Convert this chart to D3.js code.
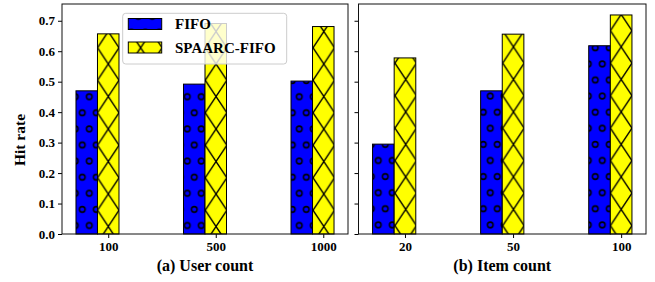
<!DOCTYPE html>
<html>
<head>
<meta charset="utf-8">
<script src="https://d3js.org/d3.v7.min.js"></script>
<style>
  body { margin: 0; background: #fff; }
  text { font-family: "Liberation Serif", "DejaVu Serif", serif; font-weight: bold; fill: #000; }
</style>
</head>
<body>
<div id="chart"></div>
<script>

// data
var seriesNames = ["FIFO", "SPAARC-FIFO"];
var userCounts = ["100", "500", "1000"];
var userFifo = [0.470, 0.492, 0.502];
var userSpaarc = [0.657, 0.691, 0.681];
var itemCounts = ["20", "50", "100"];
var itemFifo = [0.295, 0.470, 0.618];
var itemSpaarc = [0.578, 0.656, 0.719];
var yTicks = [0, 0.1, 0.2, 0.3, 0.4, 0.5, 0.6, 0.7];

var W = 655, H = 282;
var barW = 0.2;

var svg = d3.select("#chart").append("svg")
    .attr("width", W)
    .attr("height", H);

var defs = svg.append("defs");

// shared y scale
var y = d3.scaleLinear().domain([0, 0.755]).range([234, 4]);

// hatch patterns: "o" circles on blue, "x" cross on yellow (one per panel to line up)
function circlePattern(id, ox, oy) {
    var pw = 14, ph = 32.2;
    var p = defs.append("pattern")
        .attr("id", id)
        .attr("patternUnits", "userSpaceOnUse")
        .attr("x", ox).attr("y", oy)
        .attr("width", pw).attr("height", ph);
    p.append("rect").attr("width", pw).attr("height", ph).attr("fill", "#0000ff");
    var pts = [[0, 0], [pw, 0], [0, ph], [pw, ph], [pw / 2, ph / 2]];
    p.selectAll("circle").data(pts).enter().append("circle")
        .attr("cx", function (d) { return d[0]; })
        .attr("cy", function (d) { return d[1]; })
        .attr("r", 2.8)
        .attr("fill", "none")
        .attr("stroke", "#000")
        .attr("stroke-width", 1.5);
}
function crossPattern(id, cx, cy) {
    var pw = 21.55, ph = 32.5;
    var p = defs.append("pattern")
        .attr("id", id)
        .attr("patternUnits", "userSpaceOnUse")
        .attr("x", cx - pw / 2).attr("y", cy - ph / 2)
        .attr("width", pw).attr("height", ph);
    p.append("rect").attr("width", pw).attr("height", ph).attr("fill", "#ffff00");
    p.append("path")
        .attr("d", "M0,0L" + pw + "," + ph + "M" + pw + ",0L0," + ph)
        .attr("stroke", "#000")
        .attr("stroke-width", 1.4)
        .attr("fill", "none");
}
circlePattern("circA", 89.3, 96.7);
circlePattern("circB", 378.3, 160.5);
crossPattern("crossA", 108.3, 226.5);
crossPattern("crossB", 405.7, 79.4);

function drawPanel(left, right, cats, fifo, spaarc, label, circId, crossId, showLabels) {
    var x = d3.scaleLinear().domain([-0.43, 2.23]).range([left, right]);
    var g = svg.append("g");

    // FIFO bars sit one width left of the tick, SPAARC bars centred on it
    g.selectAll("rect.fifo").data(fifo).enter().append("rect")
        .attr("class", "fifo")
        .attr("x", function (d, i) { return x(i - barW * 1.5); })
        .attr("y", function (d) { return y(d); })
        .attr("width", x(barW) - x(0))
        .attr("height", function (d) { return y(0) - y(d); })
        .attr("fill", "url(#" + circId + ")")
        .attr("stroke", "#000")
        .attr("stroke-width", 1);

    g.selectAll("rect.spaarc").data(spaarc).enter().append("rect")
        .attr("class", "spaarc")
        .attr("x", function (d, i) { return x(i - barW / 2); })
        .attr("y", function (d) { return y(d); })
        .attr("width", x(barW) - x(0))
        .attr("height", function (d) { return y(0) - y(d); })
        .attr("fill", "url(#" + crossId + ")")
        .attr("stroke", "#000")
        .attr("stroke-width", 1);

    // y axis
    var yAxis = d3.axisLeft(y).tickValues(yTicks).tickSize(4).tickPadding(3).tickSizeOuter(0)
        .tickFormat(showLabels ? d3.format(".1f") : function () { return ""; });
    var ya = svg.append("g").attr("transform", "translate(" + left + ",0)").call(yAxis);
    ya.select(".domain").remove();
    ya.selectAll("line").attr("stroke", "#000");
    ya.selectAll("text").attr("font-size", 13).attr("font-family", "Liberation Serif").attr("font-weight", "bold").attr("fill", "#000");

    // x axis
    var xAxis = d3.axisBottom(x).tickValues([0, 1, 2]).tickSize(4).tickPadding(4)
        .tickFormat(function (d) { return cats[d]; });
    var xa = svg.append("g").attr("transform", "translate(0," + y(0) + ")").call(xAxis);
    xa.select(".domain").remove();
    xa.selectAll("line").attr("stroke", "#000");
    xa.selectAll("text").attr("font-size", 13).attr("font-family", "Liberation Serif").attr("font-weight", "bold").attr("fill", "#000");

    // frame
    svg.append("rect")
        .attr("x", left).attr("y", y.range()[1])
        .attr("width", right - left).attr("height", y(0) - y.range()[1])
        .attr("fill", "none")
        .attr("stroke", "#111")
        .attr("stroke-width", 1);

    svg.append("text")
        .attr("x", (left + right) / 2)
        .attr("y", 270.5)
        .attr("text-anchor", "middle")
        .attr("font-size", 16)
        .text(label);
}

drawPanel(62, 348, userCounts, userFifo, userSpaarc, "(a) User count", "circA", "crossA", true);
drawPanel(358.5, 646, itemCounts, itemFifo, itemSpaarc, "(b) Item count", "circB", "crossB", false);

svg.append("text")
    .attr("transform", "translate(24.5,140) rotate(-90)")
    .attr("text-anchor", "middle")
    .attr("font-size", 15.5)
    .text("Hit rate");

// legend
var legend = svg.append("g");
legend.append("rect")
    .attr("x", 122.7).attr("y", 13.3)
    .attr("width", 164).attr("height", 50.7)
    .attr("rx", 3)
    .attr("fill", "#fff")
    .attr("fill-opacity", 0.8)
    .attr("stroke", "#ccc")
    .attr("stroke-width", 1);

var legendFills = ["url(#circA)", "url(#crossA)"];
var legendRows = [18.5, 42];
legend.selectAll("rect.key").data(seriesNames).enter().append("rect")
    .attr("class", "key")
    .attr("x", 128.3)
    .attr("y", function (d, i) { return legendRows[i]; })
    .attr("width", 33.4)
    .attr("height", 11)
    .attr("fill", function (d, i) { return legendFills[i]; })
    .attr("stroke", "#000")
    .attr("stroke-width", 1);
legend.selectAll("text").data(seriesNames).enter().append("text")
    .attr("x", 175)
    .attr("y", function (d, i) { return legendRows[i] + 10.8; })
    .attr("font-size", 15)
    .text(function (d) { return d; });

</script>
</body>
</html>
